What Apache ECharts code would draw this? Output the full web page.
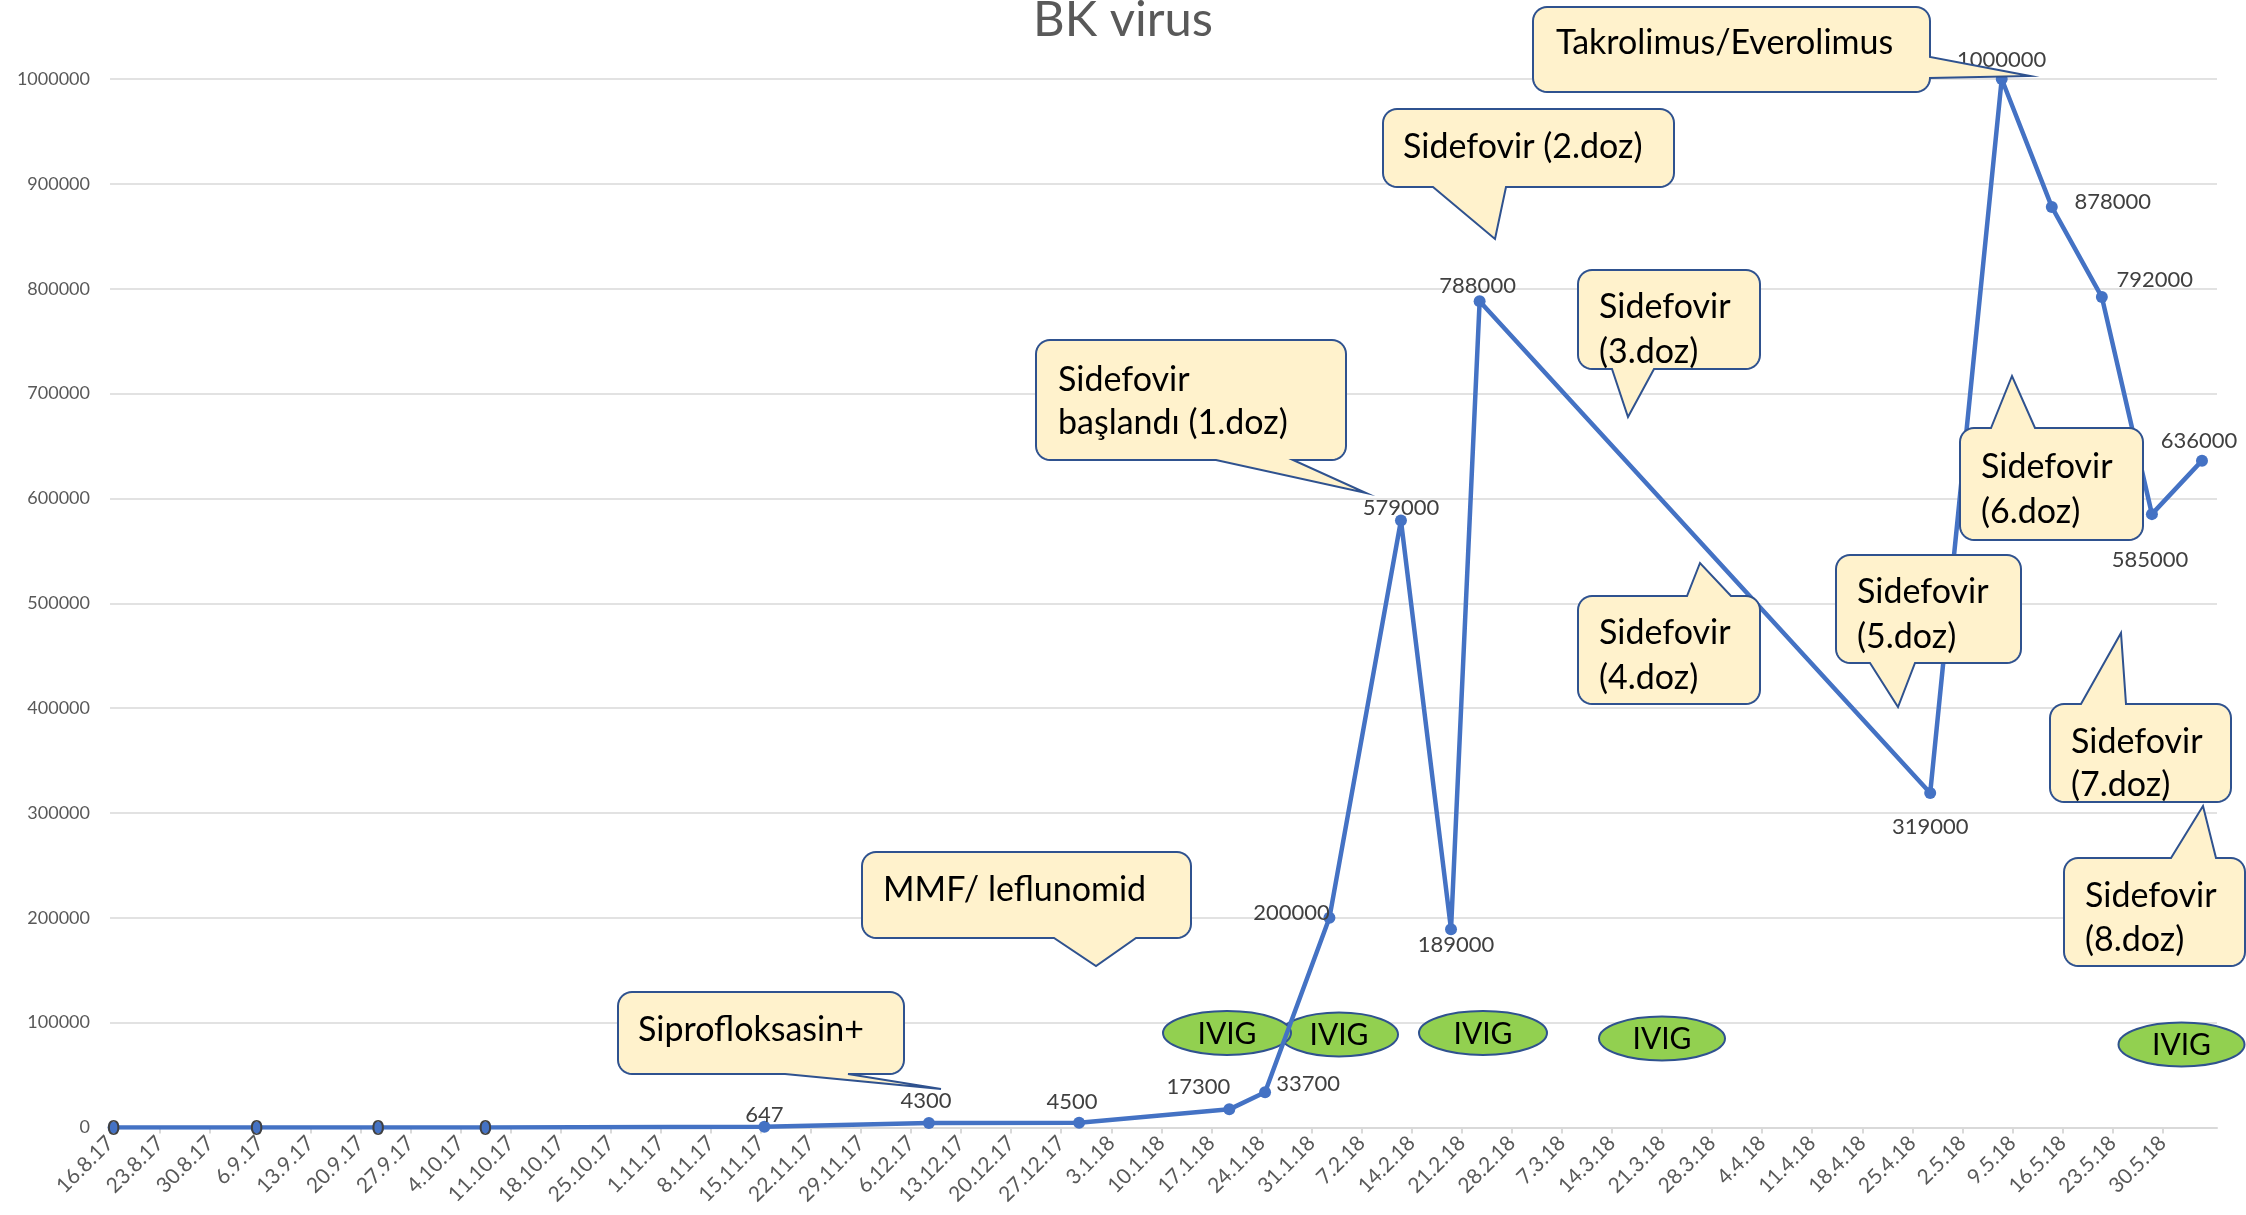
<!DOCTYPE html>
<html>
<head>
<meta charset="utf-8">
<script src="https://cdn.jsdelivr.net/npm/echarts@6/dist/echarts.min.js"></script>
<style>
html,body{margin:0;padding:0;background:#fff;}
#chart{width:2246px;height:1215px;}
</style>
</head>
<body>
<div id="chart"></div>
<script>
// ---------- data ----------
const sampleDates = ['16.8.17','5.9.17','22.9.17','7.10.17','15.11.17','8.12.17','29.12.17','19.1.18','24.1.18','2.2.18','12.2.18','19.2.18','23.2.18','27.4.18','7.5.18','14.5.18','21.5.18','28.5.18','4.6.18'];
const bkValues = [0,0,0,0,647,4300,4500,17300,33700,200000,579000,189000,788000,319000,1000000,878000,792000,585000,636000];
const tickLabels = ['16.8.17','23.8.17','30.8.17','6.9.17','13.9.17','20.9.17','27.9.17','4.10.17','11.10.17','18.10.17','25.10.17','1.11.17','8.11.17','15.11.17','22.11.17','29.11.17','6.12.17','13.12.17','20.12.17','27.12.17','3.1.18','10.1.18','17.1.18','24.1.18','31.1.18','7.2.18','14.2.18','21.2.18','28.2.18','7.3.18','14.3.18','21.3.18','28.3.18','4.4.18','11.4.18','18.4.18','25.4.18','2.5.18','9.5.18','16.5.18','23.5.18','30.5.18'];
const yMin = 0, yMax = 1000000, yStep = 100000;

// label placement (style only)
const labelOffsets = [[0,0],[0,0],[0,0],[0,0],[0,-12],[-3,-22],[-7,-21],[-31,-22],[43,-8],[-38,-5],[0,-13],[5,16],[-2,-15],[0,34],[0,-19],[61,-5],[53,-17],[-2,46],[-3,-20]];

// ---------- helpers ----------
const base = Date.UTC(2017,7,16);
function dayOf(s){ const p=s.split('.').map(Number); return (Date.UTC(2000+p[2],p[1]-1,p[0])-base)/86400000; }
const tickDays = tickLabels.map(dayOf);
const labelByDay = {}; tickLabels.forEach((t,i)=>{labelByDay[tickDays[i]]=t;});

const seriesData = sampleDates.map((d,i)=>({
  value:[dayOf(d)+0.5, bkValues[i]],
  label:{offset:labelOffsets[i]}
}));

// callouts (annotation shapes)
const BORDER='#2F528F', FILL='#FFF2CC';
function arcPts(cx,cy,r,a0,a1){
  const pts=[]; const n=8;
  for(let k=0;k<=n;k++){const a=a0+(a1-a0)*k/n; pts.push([cx+r*Math.cos(a),cy+r*Math.sin(a)]);}
  return pts;
}
function calloutPoints(x,y,w,h,r,side,b1,b2,tx,ty){
  const P=Math.PI; let pts=[];
  pts=pts.concat(arcPts(x+r,y+r,r,P,1.5*P));
  if(side==='top') pts.push([b1,y],[tx,ty],[b2,y]);
  pts=pts.concat(arcPts(x+w-r,y+r,r,1.5*P,2*P));
  if(side==='right') pts.push([x+w,b1],[tx,ty],[x+w,b2]);
  pts=pts.concat(arcPts(x+w-r,y+h-r,r,0,0.5*P));
  if(side==='bottom') pts.push([b2,y+h],[tx,ty],[b1,y+h]);
  pts=pts.concat(arcPts(x+r,y+h-r,r,0.5*P,P));
  return pts;
}
const callouts = [
  {x:1533,y:7,w:397,h:85,side:'right',b1:57,b2:78,tx:2030,ty:76,lines:[['Takrolimus/Everolimus',1556,43]]},
  {x:1383,y:109,w:291,h:78,side:'bottom',b1:1433,b2:1506,tx:1495,ty:239,lines:[['Sidefovir (2.doz)',1403,147]]},
  {x:1578,y:270,w:182,h:99,side:'bottom',b1:1612,b2:1654,tx:1628,ty:417,lines:[['Sidefovir',1599,307],['(3.doz)',1599,352]]},
  {x:1036,y:340,w:310,h:120,side:'bottom',b1:1216,b2:1293,tx:1366,ty:493,lines:[['Sidefovir',1058,380],['başlandı (1.doz)',1058,423]]},
  {x:862,y:852,w:329,h:86,side:'bottom',b1:1054,b2:1136,tx:1096,ty:966,lines:[['MMF/ leflunomid',883,890]]},
  {x:618,y:992,w:286,h:82,side:'bottom',b1:785,b2:848,tx:941,ty:1089,lines:[['Siprofloksasin+',638,1030]]},
  {x:1578,y:596,w:182,h:108,side:'top',b1:1687,b2:1731,tx:1700,ty:563,lines:[['Sidefovir',1599,633],['(4.doz)',1599,678]]},
  {x:1836,y:555,w:185,h:108,side:'bottom',b1:1870,b2:1915,tx:1898,ty:707,lines:[['Sidefovir',1857,592],['(5.doz)',1857,637]]},
  {x:1960,y:428,w:183,h:112,side:'top',b1:1991,b2:2035,tx:2012,ty:376,lines:[['Sidefovir',1981,467],['(6.doz)',1981,512]]},
  {x:2050,y:704,w:181,h:98,side:'top',b1:2081,b2:2126,tx:2121,ty:633,lines:[['Sidefovir',2071,742],['(7.doz)',2071,785]]},
  {x:2064,y:858,w:181,h:108,side:'top',b1:2171,b2:2216,tx:2203,ty:806,lines:[['Sidefovir',2085,896],['(8.doz)',2085,940]]}
];
const ivigs = [
  {cx:1339,cy:1034.5,rx:59,ry:22},
  {cx:1227,cy:1033,rx:64,ry:22},
  {cx:1483,cy:1033,rx:64,ry:22},
  {cx:1662,cy:1038.5,rx:63,ry:22},
  {cx:2181.5,cy:1044.5,rx:63,ry:22}
];

const graphics = [];
ivigs.forEach((e,i)=>{
  graphics.push({type:'ellipse',z:1,z2:i*2,shape:{cx:e.cx,cy:e.cy,rx:e.rx,ry:e.ry},style:{fill:'#92D050',stroke:BORDER,lineWidth:2}});
  graphics.push({type:'text',z:1,z2:i*2+1,x:e.cx,y:e.cy+1,style:{text:'IVIG',font:'30px Lato',fill:'#000',align:'center',verticalAlign:'middle'}});
});
callouts.forEach((c,i)=>{
  graphics.push({type:'polygon',z:10,z2:i*3,shape:{points:calloutPoints(c.x,c.y,c.w,c.h,14,c.side,c.b1,c.b2,c.tx,c.ty)},style:{fill:FILL,stroke:BORDER,lineWidth:2,lineJoin:'miter'}});
  c.lines.forEach(l=>{
    graphics.push({type:'text',z:10,z2:i*3+1,x:l[1],y:l[2],style:{text:l[0],font:'34px Lato',fill:'#000',align:'left',verticalAlign:'middle'}});
  });
});

const chart = echarts.init(document.getElementById('chart'),null,{renderer:'canvas'});
chart.setOption({
  animation:false,
  backgroundColor:'#ffffff',
  title:{text:'BK virus',left:'center',top:-9,textStyle:{fontFamily:'Lato',fontSize:49,fontWeight:'normal',color:'#595959'}},
  grid:{left:110,right:29,top:79,bottom:87.5,containLabel:false},
  xAxis:{
    type:'value',min:0,max:294.6,interval:7,
    axisLine:{show:true,onZero:true,lineStyle:{color:'#d9d9d9',width:2}},
    axisTick:{show:true,customValues:tickDays,length:6,lineStyle:{color:'#d9d9d9',width:2}},
    axisLabel:{customValues:tickDays,rotate:45,margin:12,fontFamily:'Lato',fontSize:21,color:'#595959',
      formatter:v=>labelByDay[v]!==undefined?labelByDay[v]:''},
    splitLine:{show:false}
  },
  yAxis:{
    type:'value',min:yMin,max:yMax,interval:yStep,
    axisLine:{show:false},axisTick:{show:false},
    axisLabel:{margin:20,fontFamily:'Lato',fontSize:18,color:'#595959',formatter:v=>String(v)},
    splitLine:{lineStyle:{color:'#d9d9d9',width:1.5}}
  },
  series:[{
    type:'line',data:seriesData,
    lineStyle:{color:'#4472C4',width:4.5},
    itemStyle:{color:'#4472C4'},
    symbol:'circle',symbolSize:12,showAllSymbol:true,
    label:{show:true,position:'inside',fontFamily:'Lato',fontSize:22,color:'#404040',
      formatter:p=>String(p.value[1])},
    z:2
  }],
  graphic:graphics
});
</script>
</body>
</html>
